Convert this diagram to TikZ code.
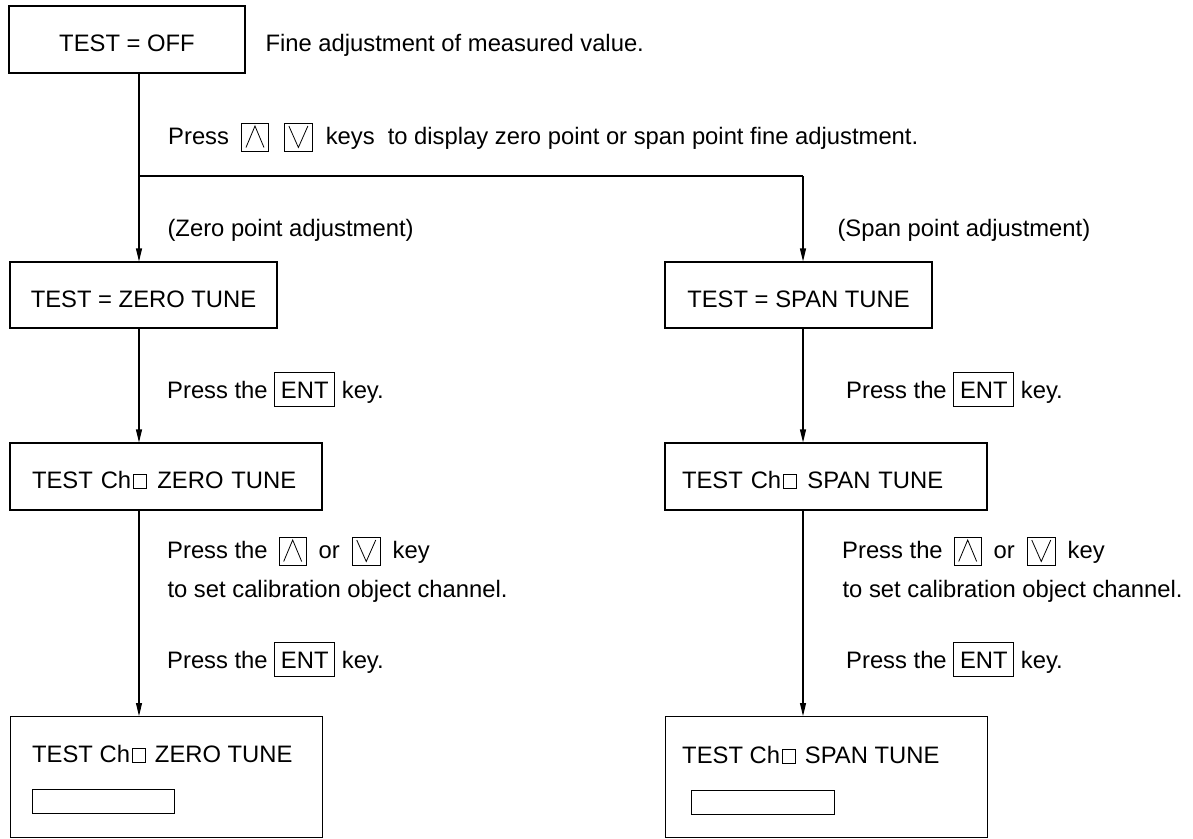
\documentclass[tikz,border=0pt]{standalone}
\usepackage{fontspec}
\setmainfont{Liberation Sans}
\usetikzlibrary{arrows.meta}
\newcommand\bodyfont{\fontsize{23.8pt}{28pt}\selectfont}
\newcommand\kup{\tikz[baseline=0pt,x=1pt,y=1pt]{\draw[line width=0.9pt] (0,-7) rectangle (27,21); \draw[line width=0.8pt] (4.5,-3.5)--(13.5,18)--(22.5,-3.5);}}
\newcommand\kdn{\tikz[baseline=0pt,x=1pt,y=1pt]{\draw[line width=0.9pt] (0,-7) rectangle (28,21); \draw[line width=0.8pt] (4.5,18)--(14,-3.5)--(23.5,18);}}
\newcommand\entk{\tikz[baseline=0pt,x=1pt,y=1pt]{\draw[line width=0.9pt] (0,-8) rectangle (60,26); \path (30,0) node[anchor=base,inner sep=0pt]{ENT};}}
\newcommand\chsq{\hspace{1.5pt}\tikz[baseline=0pt,x=1pt,y=1pt]\draw[line width=0.8pt] (0,0) rectangle (13,14);\hspace{3pt}}
\begin{document}
\begin{tikzpicture}[x=1pt,y=-1pt,line width=1.1pt,
  box/.style={draw,line width=1.1pt,inner sep=0pt,font=\bodyfont,text height=24pt,text depth=0pt},
  lbl/.style={anchor=base west,inner sep=0pt,font=\bodyfont},
  arr/.style={-{Triangle[length=13pt,width=6pt]}}]
\useasboundingbox (0,0) rectangle (1193,838);
% top
\node[box,minimum width=236,minimum height=67] (off) at (127,39.5) {TEST = OFF};
\node[lbl] (fine) at (265,51) {Fine adjustment of measured value.};
\coordinate (j) at (139,176);
\coordinate (jr) at (803,176);
\node[lbl] (press) at (168,144) {Press\hspace{12pt}\kup\hspace{15pt}\kdn\hspace{13pt}keys\hspace{13pt}to display zero point or span point fine adjustment.};
\node[lbl] (zl) at (167,236) {(Zero point adjustment)};
\node[lbl] (sl) at (837,236) {(Span point adjustment)};
% tune boxes
\node[box,minimum width=267,minimum height=66] (zt) at (143.5,295) {TEST = ZERO TUNE};
\node[box,minimum width=267,minimum height=66] (st) at (798.5,295) {TEST = SPAN TUNE};
\node[lbl] (ze1) at (167,398) {Press the \entk\ key.};
\node[lbl] (se1) at (846,398) {Press the \entk\ key.};
% channel boxes
\node[box,minimum height=67,text width=268pt,inner xsep=22pt,align=left] (zc) at (166,476.5) {TEST Ch\chsq\ ZERO TUNE};
\node[box,minimum height=67,text width=288pt,inner xsep=17pt,align=left] (sc) at (826,476.5) {TEST Ch\chsq\ SPAN TUNE};
\node[lbl] (zk) at (167,558) {Press the\hspace{11pt}\kup\hspace{12pt}or\hspace{12pt}\kdn\hspace{12pt}key};
\node[lbl] (sk) at (842,558) {Press the\hspace{11pt}\kup\hspace{12pt}or\hspace{12pt}\kdn\hspace{12pt}key};
\node[lbl] (zs) at (167,597) {to set calibration object channel.};
\node[lbl] (ss) at (842,597) {to set calibration object channel.};
\node[lbl] (ze2) at (167,668) {Press the \entk\ key.};
\node[lbl] (se2) at (846,668) {Press the \entk\ key.};
% bottom boxes
\node[draw,line width=1.1pt,inner sep=0pt,minimum width=312,minimum height=121,anchor=north west] (zb) at (10,716) {};
\node[lbl] (zbt) at (32,762) {TEST Ch\chsq\ ZERO TUNE};
\node[draw,inner sep=0pt,minimum width=142,minimum height=24,anchor=north west,line width=0.9pt] (zbd) at (32,789) {};
\node[draw,line width=1.1pt,inner sep=0pt,minimum width=322,minimum height=121,anchor=north west] (sb) at (665,716) {};
\node[lbl] (sbt) at (682,763) {TEST Ch\chsq\ SPAN TUNE};
\node[draw,inner sep=0pt,minimum width=143,minimum height=24,anchor=north west,line width=0.9pt] (sbd) at (691,790) {};
% connectors
\draw (j |- off.south) -- (j) -- (jr);
\draw[arr] (j) -- (j |- zt.north);
\draw[arr] (jr) -- (jr |- st.north);
\draw[arr] (j |- zt.south) -- (j |- zc.north);
\draw[arr] (jr |- st.south) -- (jr |- sc.north);
\draw[arr] (j |- zc.south) -- (j |- zb.north);
\draw[arr] (jr |- sc.south) -- (jr |- sb.north);
\end{tikzpicture}
\end{document}
